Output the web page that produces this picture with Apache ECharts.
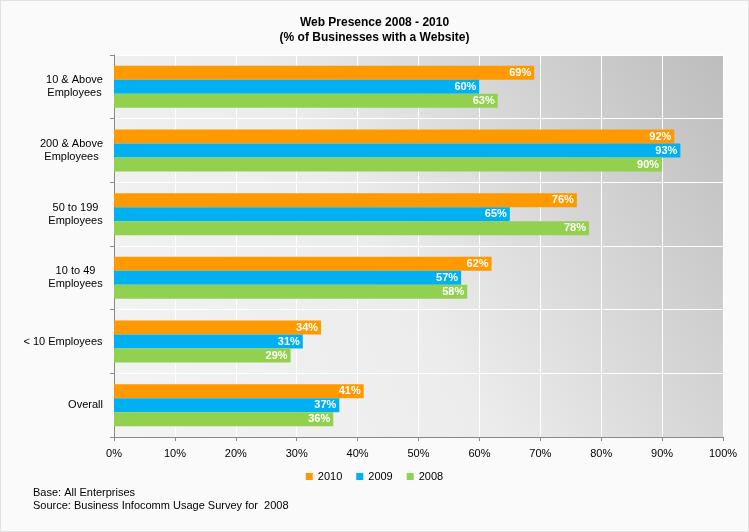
<!DOCTYPE html>
<html>
<head>
<meta charset="utf-8">
<script src="https://cdn.jsdelivr.net/npm/echarts@6/dist/echarts.min.js"></script>
<style>
  html, body { margin: 0; padding: 0; background: #fff; }
  #chart { width: 747px; height: 530px; border: 1px solid #e2e2e2; background: #fafafa; }
</style>
</head>
<body>
<div id="chart"></div>
<script>
// 数据
const categories = ['10 & Above\nEmployees', '200 & Above\nEmployees', '50 to 199\nEmployees', '10 to 49\nEmployees', '< 10 Employees', 'Overall'];
const years = ['2010', '2009', '2008'];
const values2010 = [69, 92, 76, 62, 34, 41];
const values2009 = [60, 93, 65, 57, 31, 37];
const values2008 = [63, 90, 78, 58, 29, 36];
const colors = ['#ff9900', '#00b0f0', '#92d050'];

const font = 'Arial, "Liberation Sans", sans-serif';

// 分类标签：整体右对齐，多行之间居中
const _ctx = document.createElement('canvas').getContext('2d');
_ctx.font = '11px ' + font;
const richLabels = {};
categories.forEach((c, i) => {
    let w = Math.max.apply(null, c.split('\n').map(s => _ctx.measureText(s).width));
    richLabels['c' + i] = { width: Math.ceil(w), align: 'center', color: '#000', fontSize: 11, fontFamily: font, lineHeight: 13 };
});

const _series = (name, data, color) => {
    return {
        type: 'bar',
        name: name,
        data: data,
        barGap: 0,
        barCategoryGap: '34%',
        itemStyle: { color: color },
        label: {
            show: true,
            position: 'insideRight',
            distance: 3,
            formatter: '{c}%',
            color: '#fff',
            fontWeight: 'bold',
            fontSize: 11,
            fontFamily: font
        }
    };
};

let chart = echarts.init(document.getElementById('chart'));

chart.setOption({
    animation: false,
    title: {
        text: 'Web Presence 2008 - 2010\n(% of Businesses with a Website)',
        left: 'center',
        top: 9,
        textStyle: {
            color: '#000',
            fontSize: 12,
            fontWeight: 'bold',
            fontFamily: font,
            lineHeight: 15
        }
    },
    legend: {
        data: years,
        bottom: 44,
        left: 'center',
        itemWidth: 7,
        itemHeight: 7,
        itemGap: 14,
        icon: 'rect',
        textStyle: { color: '#000', fontSize: 11, fontFamily: font }
    },
    grid: {
        left: 113,
        right: 25,
        top: 54,
        bottom: 94,
        show: true,
        borderWidth: 0,
        backgroundColor: new echarts.graphic.LinearGradient(1, 0, 0, 1, [
            { offset: 0, color: '#bdbdbd' },
            { offset: 0.55, color: '#ececec' },
            { offset: 1, color: '#f4f4f4' }
        ])
    },
    xAxis: {
        type: 'value',
        min: 0,
        max: 100,
        interval: 10,
        axisLabel: {
            formatter: '{value}%',
            color: '#000',
            fontSize: 11,
            fontFamily: font,
            margin: 11
        },
        axisLine: { show: true, lineStyle: { color: '#888' } },
        axisTick: { show: true, length: 4, lineStyle: { color: '#888' } },
        splitLine: { show: true, lineStyle: { color: '#fff', width: 1 } }
    },
    yAxis: {
        type: 'category',
        inverse: true,
        data: categories,
        axisLabel: {
            align: 'right',
            margin: 11,
            formatter: (value, idx) => value.split('\n').map(s => '{c' + idx + '|' + s + '}').join('\n'),
            rich: richLabels
        },
        axisLine: { show: true, lineStyle: { color: '#888' } },
        axisTick: { show: true, length: 4, lineStyle: { color: '#888' } },
        splitLine: { show: true, lineStyle: { color: '#fff', width: 1 } }
    },
    graphic: [{
        type: 'text',
        left: 32,
        top: 485,
        style: {
            text: 'Base: All Enterprises\nSource: Business Infocomm Usage Survey for  2008',
            fill: '#000',
            font: '11px ' + font,
            lineHeight: 13
        }
    }],
    series: [
        _series(years[0], values2010, colors[0]),
        _series(years[1], values2009, colors[1]),
        _series(years[2], values2008, colors[2])
    ]
});
</script>
</body>
</html>
